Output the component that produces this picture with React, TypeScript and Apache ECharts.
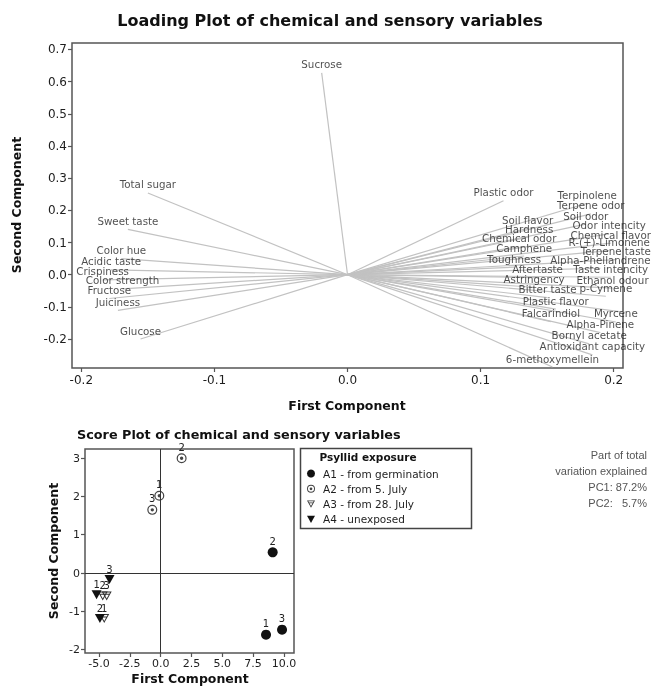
import React, { useEffect, useRef } from "react";
import * as echarts from "echarts";

// ---------- Loading plot data ----------
const loadingNames = [
  "Sucrose", "Total sugar", "Sweet taste", "Color hue", "Acidic taste", "Crispiness",
  "Color strength", "Fructose", "Juiciness", "Glucose",
  "Plastic odor", "Terpinolene", "Terpene odor", "Soil odor", "Soil flavor", "Hardness",
  "Odor intencity", "Chemical odor", "Chemical flavor", "R-(+)-Limonene", "Camphene",
  "Terpene taste", "Toughness", "Alpha-Phellandrene", "Aftertaste", "Taste intencity",
  "Astringency", "Ethanol odour", "Bitter taste", "p-Cymene", "Plastic flavor",
  "Beta-Pinene", "Falcarindiol", "Myrcene", "Alpha-Pinene", "Bornyl acetate",
  "Antioxidant capacity", "6-methoxymellein",
];
const loadingX = [
  -0.0194, -0.150, -0.165, -0.170, -0.1776, -0.184,
  -0.169, -0.179, -0.1725, -0.1555,
  0.1172, 0.180, 0.1828, 0.179, 0.1353, 0.1365,
  0.1966, 0.129, 0.1978, 0.1966, 0.1327,
  0.2016, 0.1252, 0.190, 0.1428, 0.1978,
  0.1402, 0.1991, 0.1503, 0.1941, 0.1565,
  0.2116, 0.1528, 0.2016, 0.190, 0.1816,
  0.184, 0.154,
];
const loadingY = [
  0.627, 0.254, 0.141, 0.050, 0.015, -0.016,
  -0.044, -0.074, -0.111, -0.200,
  0.230, 0.222, 0.189, 0.157, 0.144, 0.117,
  0.127, 0.087, 0.098, 0.075, 0.058,
  0.047, 0.0234, 0.020, -0.009, -0.008,
  -0.039, -0.042, -0.071, -0.067, -0.107,
  -0.119, -0.146, -0.147, -0.180, -0.215,
  -0.249, -0.287,
];
const loadXTicks = [-0.2, -0.1, 0.0, 0.1, 0.2];
const loadYTicks = [-0.2, -0.1, 0.0, 0.1, 0.2, 0.3, 0.4, 0.5, 0.6, 0.7];

// ---------- Score plot data ----------
const groupNames = ["A1 - from germination", "A2 - from 5. July", "A3 - from 28. July", "A4 - unexposed"];
const replicateLabels = ["1", "2", "3"];
const a1X = [8.55, 9.09, 9.85];
const a1Y = [-1.61, 0.54, -1.48];
const a2X = [-0.11, 1.70, -0.68];
const a2Y = [2.02, 3.0, 1.65];
const a3X = [-4.58, -4.7, -4.38];
const a3Y = [-1.19, -0.6, -0.6];
const a4X = [-5.2, -4.93, -4.15];
const a4Y = [-0.57, -1.19, -0.17];
const scoreXTicks = [-5, -2.5, 0, 2.5, 5, 7.5, 10];
const scoreYTicks = [-2, -1, 0, 1, 2, 3];

const noteLines = ["Part of total", "variation explained", "PC1: 87.2%", "PC2:   5.7%"];

const SYM_DOT_CIRCLE =
  "path://M0,10 A10,10 0 1,1 20,10 A10,10 0 1,1 0,10 Z M2.4,10 A7.6,7.6 0 1,0 17.6,10 A7.6,7.6 0 1,0 2.4,10 Z M6.6,10 A3.4,3.4 0 1,1 13.4,10 A3.4,3.4 0 1,1 6.6,10 Z";
const SYM_BAR_TRI =
  "path://M0,0 L20,0 L10,18 Z M3.4,1.9 L10,13.9 L16.6,1.9 Z M4.6,4.8 L15.4,4.8 L14.5,6.8 L5.5,6.8 Z";

const FONT = "DejaVu Sans";

export default function App() {
  const ref = useRef<HTMLDivElement>(null);
  useEffect(() => {
    if (!ref.current) return;
    const chart = echarts.init(ref.current, undefined, { renderer: "svg" });

    const mk = (xs: number[], ys: number[]) =>
      xs.map((x, i) => ({ value: [x, ys[i]], name: replicateLabels[i] }));

    const scoreLabel = {
      show: true,
      position: "top" as const,
      distance: 1,
      formatter: "{b}",
      fontSize: 10,
      color: "#222",
      fontFamily: FONT,
    };

    const axisCommon = {
      type: "value" as const,
      axisLine: { show: false, onZero: false },
      splitLine: { show: false },
    };

    const option: any = {
      animation: false,
      textStyle: { fontFamily: FONT },
      grid: [
        { left: 72, top: 43, width: 551, height: 325, show: true, borderColor: "#555", borderWidth: 1.5 },
        { left: 85, top: 449, width: 209, height: 204, show: true, borderColor: "#555", borderWidth: 1.5 },
      ],
      xAxis: [
        {
          ...axisCommon,
          gridIndex: 0,
          min: -0.207,
          max: 0.207,
          axisTick: { show: true, length: 4, customValues: loadXTicks, lineStyle: { color: "#555", width: 1.2 } },
          axisLabel: {
            customValues: loadXTicks,
            formatter: (v: number) => v.toFixed(1),
            fontSize: 12,
            color: "#1e1e1e",
            margin: 6,
          },
        },
        {
          ...axisCommon,
          gridIndex: 1,
          min: -6.14,
          max: 10.82,
          axisTick: { show: true, length: 4, customValues: scoreXTicks, lineStyle: { color: "#555", width: 1.2 } },
          axisLabel: {
            customValues: scoreXTicks,
            formatter: (v: number) => v.toFixed(1),
            fontSize: 11,
            color: "#1e1e1e",
            margin: 5,
          },
        },
      ],
      yAxis: [
        {
          ...axisCommon,
          gridIndex: 0,
          min: -0.29,
          max: 0.72,
          axisTick: { show: true, length: 4, customValues: loadYTicks, lineStyle: { color: "#555", width: 1.2 } },
          axisLabel: {
            customValues: loadYTicks,
            formatter: (v: number) => v.toFixed(1),
            fontSize: 12,
            color: "#1e1e1e",
            margin: 5,
          },
        },
        {
          ...axisCommon,
          gridIndex: 1,
          min: -2.09,
          max: 3.24,
          axisTick: { show: true, length: 4, customValues: scoreYTicks, lineStyle: { color: "#555", width: 1.2 } },
          axisLabel: {
            customValues: scoreYTicks,
            formatter: (v: number) => String(v),
            fontSize: 11,
            color: "#1e1e1e",
            margin: 5,
          },
        },
      ],
      legend: {
        orient: "vertical",
        left: 307,
        top: 467,
        itemWidth: 8,
        itemHeight: 8,
        itemGap: 2.3,
        padding: 0,
        data: groupNames,
        textStyle: { fontSize: 10.5, color: "#1e1e1e", fontFamily: FONT, lineHeight: 13, padding: [0, 0, 0, 3] },
        selectedMode: false,
      },
      graphic: [
        {
          type: "text",
          x: 330,
          y: 20,
          style: { text: "Loading Plot of chemical and sensory variables", fontSize: 16, fontWeight: "bold", fontFamily: FONT, fill: "#111", align: "center", verticalAlign: "middle" },
        },
        {
          type: "text",
          x: 347,
          y: 405,
          style: { text: "First Component", fontSize: 12.5, fontWeight: "bold", fontFamily: FONT, fill: "#111", align: "center", verticalAlign: "middle" },
        },
        {
          type: "text",
          x: 16,
          y: 205,
          rotation: Math.PI / 2,
          style: { text: "Second Component", fontSize: 12.5, fontWeight: "bold", fontFamily: FONT, fill: "#111", align: "center", verticalAlign: "middle" },
        },
        {
          type: "text",
          x: 77,
          y: 434,
          style: { text: "Score Plot of chemical and sensory variables", fontSize: 12.8, fontWeight: "bold", fontFamily: FONT, fill: "#111", align: "left", verticalAlign: "middle" },
        },
        {
          type: "text",
          x: 190,
          y: 678,
          style: { text: "First Component", fontSize: 12.5, fontWeight: "bold", fontFamily: FONT, fill: "#111", align: "center", verticalAlign: "middle" },
        },
        {
          type: "text",
          x: 53,
          y: 551,
          rotation: Math.PI / 2,
          style: { text: "Second Component", fontSize: 12.5, fontWeight: "bold", fontFamily: FONT, fill: "#111", align: "center", verticalAlign: "middle" },
        },
        {
          type: "rect",
          shape: { x: 300.5, y: 448.5, width: 171, height: 80 },
          style: { fill: "none", stroke: "#444", lineWidth: 1.5 },
        },
        {
          type: "text",
          x: 368,
          y: 457,
          style: { text: "Psyllid exposure", fontSize: 10.5, fontWeight: "bold", fontFamily: FONT, fill: "#111", align: "center", verticalAlign: "middle" },
        },
        ...noteLines.map((t, i) => ({
          type: "text",
          x: 647,
          y: 455 + i * 16,
          style: { text: t, fontSize: 11, fontFamily: "Liberation Sans", fill: "#555", align: "right", verticalAlign: "middle" },
        })),
      ],
      series: [
        {
          type: "lines",
          coordinateSystem: "cartesian2d",
          xAxisIndex: 0,
          yAxisIndex: 0,
          silent: true,
          z: 1,
          lineStyle: { color: "#c2c2c2", width: 1.2, opacity: 1 },
          data: loadingNames.map((n, i) => ({ name: n, coords: [[0, 0], [loadingX[i], loadingY[i]]] })),
        },
        {
          type: "scatter",
          xAxisIndex: 0,
          yAxisIndex: 0,
          silent: true,
          z: 3,
          symbolSize: 1,
          itemStyle: { color: "rgba(0,0,0,0)" },
          label: { show: true, position: "top", distance: 3, formatter: "{b}", fontSize: 10.3, color: "#1f1f1f", fontFamily: FONT },
          data: loadingNames.map((n, i) => ({ name: n, value: [loadingX[i], loadingY[i]] })),
        },
        {
          type: "scatter",
          name: groupNames[0],
          xAxisIndex: 1,
          yAxisIndex: 1,
          symbol: "circle",
          symbolSize: 10,
          itemStyle: { color: "#111", opacity: 1 },
          label: scoreLabel,
          data: mk(a1X, a1Y),
          markLine: {
            silent: true,
            symbol: ["none", "none"],
            label: { show: false },
            lineStyle: { color: "#333", type: "solid", width: 1 },
            data: [{ xAxis: 0 }, { yAxis: 0 }],
          },
        },
        {
          type: "scatter",
          name: groupNames[1],
          xAxisIndex: 1,
          yAxisIndex: 1,
          symbol: SYM_DOT_CIRCLE,
          symbolSize: 10,
          itemStyle: { color: "#444", opacity: 1 },
          label: scoreLabel,
          data: mk(a2X, a2Y),
        },
        {
          type: "scatter",
          name: groupNames[2],
          xAxisIndex: 1,
          yAxisIndex: 1,
          symbol: SYM_BAR_TRI,
          symbolSize: [10, 9],
          itemStyle: { color: "#333", opacity: 1 },
          label: scoreLabel,
          data: mk(a3X, a3Y),
        },
        {
          type: "scatter",
          name: groupNames[3],
          xAxisIndex: 1,
          yAxisIndex: 1,
          symbol: "path://M0,0 L20,0 L10,18 Z",
          symbolSize: [10, 9],
          itemStyle: { color: "#111", opacity: 1 },
          label: scoreLabel,
          data: mk(a4X, a4Y),
        },
      ],
    };

    chart.setOption(option);
    return () => chart.dispose();
  }, []);

  return <div ref={ref} style={{ position: "fixed", left: 0, top: 0, width: 652, height: 687 }} />;
}
